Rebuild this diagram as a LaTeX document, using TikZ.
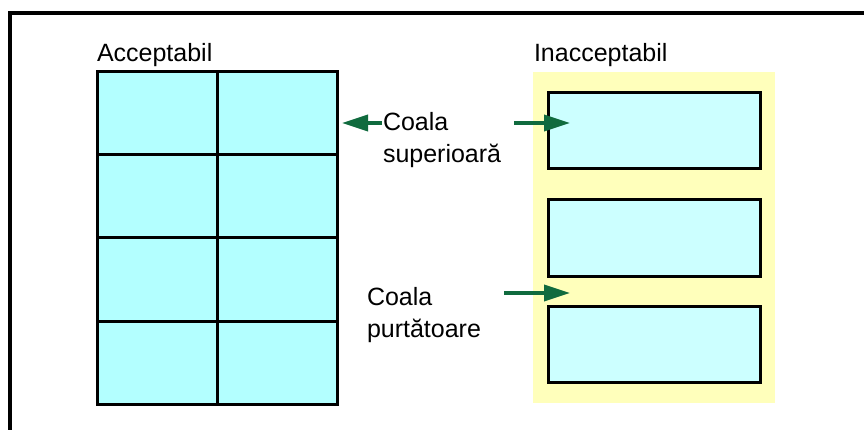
\documentclass[tikz,border=0pt]{standalone}
\usepackage{fontspec}
\setmainfont{Liberation Sans}
\usetikzlibrary{arrows.meta}
\definecolor{cellcyan}{HTML}{B3FFFF}
\definecolor{labcyan}{HTML}{CCFFFF}
\definecolor{sheetyellow}{HTML}{FFFFBB}
\definecolor{arrgreen}{HTML}{106B3E}
\tikzset{
  cell/.style={draw=black, line width=3pt, fill=cellcyan, minimum width=120pt, minimum height=83pt, inner sep=0pt, outer sep=0pt},
  label/.style={draw=black, line width=3pt, fill=labcyan, minimum width=212pt, inner sep=0pt, outer sep=0pt},
  txt/.style={inner sep=0pt, outer sep=0pt, anchor=base west, font=\fontsize{25}{32}\selectfont, align=left},
  arr/.style={draw=arrgreen, line width=3.5pt, -{Triangle[length=26pt,width=16pt]}}
}
\begin{document}
\begin{tikzpicture}[x=1pt,y=-1pt]
\useasboundingbox (0,0) rectangle (864,430);
\fill[white] (0,0) rectangle (864,430);
% frame (top and left only)
\draw[line width=3.2pt] (10,430) -- (10,13) -- (864,13);
% acceptable sheet
\node[cell] (a11) at (157,113.5) {};
\node[cell] (a12) at (277,113.5) {};
\node[cell] (a21) at (157,196.5) {};
\node[cell] (a22) at (277,196.5) {};
\node[cell] (a31) at (157,279.5) {};
\node[cell] (a32) at (277,279.5) {};
\node[cell] (a41) at (157,363) {};
\node[cell] (a42) at (277,363) {};
% unacceptable sheet
\node[fill=sheetyellow, minimum width=242pt, minimum height=331pt, inner sep=0pt] (carrier) at (654,237.5) {};
\node[label, minimum height=76pt] (l1) at (654,131) {};
\node[label, minimum height=76pt] (l2) at (654,238) {};
\node[label, minimum height=76pt] (l3) at (654,344) {};
% texts
\node[txt] (acc) at (97,62) {Acceptabil};
\node[txt] (inacc) at (534,62) {Inacceptabil};
\node[txt] (top1) at (383,131) {Coala};
\node[txt] (top2) at (383,163) {superioară};
\node[txt] (bot1) at (367,305) {Coala};
\node[txt] (bot2) at (367,337) {purtătoare};
% arrows
\coordinate (s1) at (382,123);
\coordinate (t1) at (342,123);
\coordinate (s2) at (514,123);
\coordinate (t2) at (570,123);
\coordinate (s3) at (504,293);
\coordinate (t3) at (570,293);
\draw[arr] (s1) -- (t1);
\draw[arr] (s2) -- (t2);
\draw[arr] (s3) -- (t3);
\end{tikzpicture}
\end{document}
